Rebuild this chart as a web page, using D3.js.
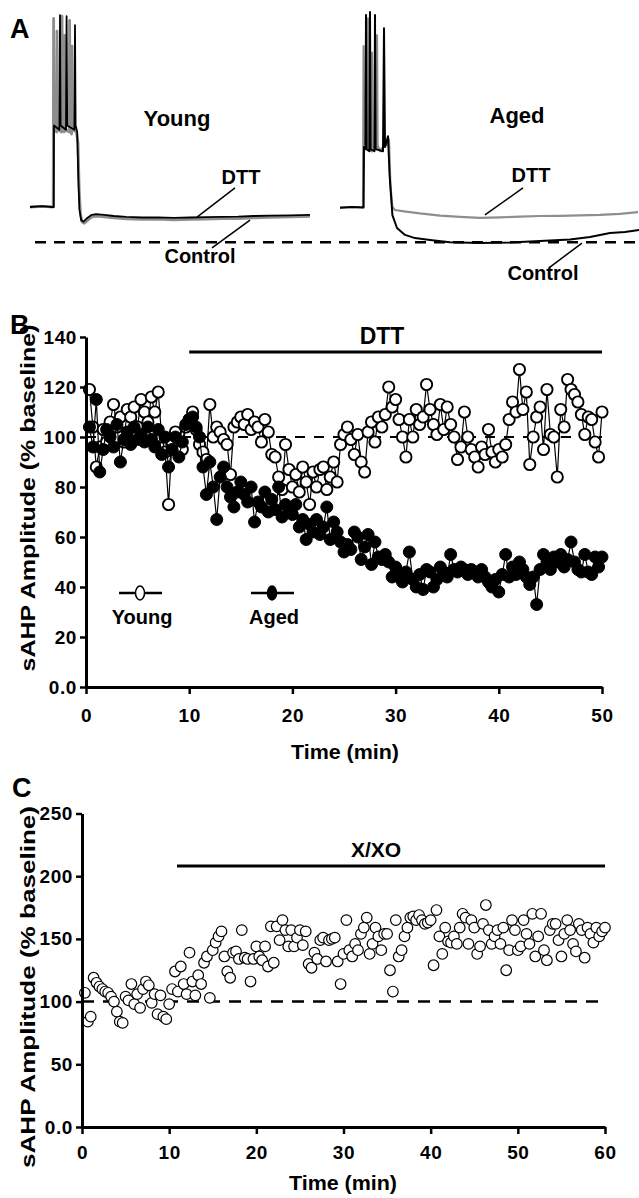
<!DOCTYPE html>
<html>
<head>
<meta charset="utf-8">
<script src="https://cdn.jsdelivr.net/npm/d3@7"></script>
<style>
  body { margin: 0; background: #fff; }
  svg { display: block; font-family: "Liberation Sans", Arial, sans-serif; font-weight: bold; }
</style>
</head>
<body>
<div id="chart"></div>
<script>
// ---- Panel A: voltage traces, [time (ms), membrane potential (mV)] ----
const youngDTT = [[0,-60],[60,-59.7],[116,-60],[118,28],[121,-24],[133,-25],[135,22],[138,-24],[158,-25],[160,29],[163,-24],
  [171,-25],[173,20],[176,-24],[196,-25],[198,27],[201,-24],[208,-26],[210,15],[213,-24],[232,-25],[240,-30],[246,-52],
  [252,-63],[260,-67],[272,-67.6],[290,-66],[310,-64.6],[335,-64.2],[370,-64.6],[420,-65],[480,-65.5],[560,-65.8],
  [640,-65.6],[720,-66],[800,-65.8],[880,-65.6],[960,-65.4],[1040,-65.4],[1120,-65],[1200,-64.8],[1300,-64.6],[1400,-64.4]];
const youngControl = [[0,-60],[60,-59.6],[110,-60],[119,-60],[120,-22],[147,-24],[150,29.5],[153,-22],[180,-24],
  [183,29],[186,-22],[222,-24],[225,24.8],[228,-22],[236,-25],[241,-45],[247,-61],[256,-66.2],[268,-66.8],[285,-65.2],
  [305,-63.8],[330,-63.3],[370,-63.7],[420,-64.2],[480,-64.6],[560,-64.9],[640,-64.8],[720,-65.1],[800,-64.9],
  [880,-64.7],[960,-64.6],[1040,-64.5],[1120,-64.2],[1200,-64],[1300,-63.9],[1400,-63.7]];
const agedDTT = [[0,-60.3],[60,-60],[115,-60.2],[118,15],[121,-30],[138,-32],[140,28],[143,-33],[158,-34],[160,12],
  [163,-32],[182,-33],[185,20],[188,-31],[200,-34],[215,-32],[235,-31],[245,-28.5],[252,-50],[262,-60],[275,-61.4],
  [320,-62],[400,-63],[500,-64],[600,-64.6],[700,-65.1],[800,-64.8],[900,-64.5],[1000,-64.2],[1100,-64.1],
  [1200,-63.9],[1300,-63.7],[1400,-63.2],[1490,-62.4]];
const agedControl = [[0,-60.3],[60,-60],[118,-60.2],[120,-32],[127,-33],[130,29.5],[133,-33],[147,-34],[150,30.9],
  [153,-33],[172,-34],[175,29.5],[178,-33],[215,-34],[220,23.4],[225,-32],[240,-27],[248,-45],[262,-63.8],
  [285,-69.8],[325,-73],[375,-74.5],[450,-75.4],[550,-76.4],[700,-76.8],[850,-76.6],[1000,-75.9],[1150,-75.2],
  [1250,-74],[1350,-72.1],[1425,-71.7],[1495,-70.7]];
const baselineMV = -76.4;

// ---- Panel B: sAHP amplitude (% baseline), one sample every 1/3 min ----
const sampleStepB = 1 / 3;
const youngB = [119,104,88, 96,103,98, 106,113,104, 108,98,111, 108,112,104, 115,110,106, 116,110,118, 100,94,73,
  98,102,96, 95,104,107, 110,103,97, 94,91,113, 100,104,102, 99,97,85, 104,106,108, 105,109,103, 106,104,98,
  107,102,93, 92,84,79, 97,87,80, 85,78,88, 82,73,86, 80,87,88, 79,84,90, 82,97,101, 104,99,93, 101,90,86,
  102,106,98, 108,104,109, 120,112,115, 107,100,92, 107,100,111, 105,108,121, 111,105,101, 113,103,112,
  105,100,91, 96,110,100, 95,92,88, 96,93,103, 94,90,95, 92,97,107, 114,110,127, 111,118,89, 100,108,112,
  95,119,101, 100,84,111, 104,123,119, 117,114,109, 101,108,107, 98,92,110];
const agedB = [104,96,115, 86,95,103, 100,96,105, 90,99,102, 97,104,99, 101,98,104, 99,96,103, 93,100,88,
  95,100,92, 98,105,107, 108,104,100, 88,77,90, 80,67,84, 88,80,76, 72,78,82, 77,74,80, 66,74,72, 78,70,75,
  71,80,68, 73,70,69, 73,64,67, 59,65,62, 67,61,64, 72,59,66, 62,58,54, 57,55,62, 60,51,56, 61,49,58,
  52,51,53, 50,44,48, 44,42,46, 54,43,40, 45,39,47, 46,40,43, 48,46,44, 53,47,46, 48,47,45, 47,46,44,
  47,44,42, 40,43,38, 45,53,44, 48,45,50, 47,44,41, 44,33,47, 53,50,47, 52,50,53, 48,51,58, 50,47,46,
  53,46,45, 52,48,52];
const drugB = { label: "DTT", start: 10, end: 50 };
const bXTicks = [0, 10, 20, 30, 40, 50];
const bYTicks = [0, 20, 40, 60, 80, 100, 120, 140];

// ---- Panel C: sAHP amplitude (% baseline), one sample every 1/3 min ----
const sampleStepC = 1 / 3;
const xxoC = [107,84,88, 119,115,112, 110,108,107, 104,100,92, 84,83,104, 101,114,98, 106,95,110, 116,113,99,
  106,90,105, 88,86,98, 110,124,108, 128,114,106, 139,116,105, 121,114,131, 136,103,141, 147,152,156,
  136,124,119, 139,140,134, 157,135,134, 116,134,144, 136,133,144, 128,160,131, 160,149,165, 157,144,157,
  144,151,157, 145,156,130, 127,139,134, 149,151,132, 149,150,151, 132,114,138, 165,141,136, 146,141,154,
  159,167,138, 146,159,152, 141,154,154, 125,108,165, 136,141,152, 159,167,168, 165,169,165, 162,163,165,
  129,173,152, 138,159,148, 147,152,146, 159,170,167, 146,165,159, 138,144,162, 177,157,146, 152,157,146,
  159,125,141, 165,157,141, 144,165,154, 146,170,136, 152,170,141, 133,157,162, 162,149,136, 154,165,157,
  146,140,162, 157,135,159, 154,147,159, 152,156,159];
const drugC = { label: "X/XO", start: 10.9, end: 60 };
const cXTicks = [0, 10, 20, 30, 40, 50, 60];
const cYTicks = [0, 50, 100, 150, 200, 250];

const yTickFormat = d => d === 0 ? "0.0" : String(d);

// ---- svg ----
const svg = d3.select("#chart").append("svg")
  .attr("width", 639)
  .attr("height", 1198);

svg.append("rect").attr("width", 639).attr("height", 1198).attr("fill", "#fff");

function label(x, y, txt, size, anchor) {
  return svg.append("text")
    .attr("x", x).attr("y", y)
    .attr("text-anchor", anchor || "middle")
    .attr("font-size", size)
    .attr("font-weight", "bold")
    .attr("fill", "#000")
    .text(txt);
}

// ================= Panel A =================
const xYoung = d3.scaleLinear().domain([0, 1400]).range([30, 310]);
const xAged = d3.scaleLinear().domain([0, 1500]).range([340, 640]);
const yA = d3.scaleLinear().domain([-80, 30]).range([249.9, 14]);

function trace(data, xs, color, w) {
  svg.append("path")
    .datum(data)
    .attr("d", d3.line().x(d => xs(d[0])).y(d => yA(d[1])))
    .attr("fill", "none")
    .attr("stroke", color)
    .attr("stroke-width", w)
    .attr("stroke-linejoin", "round");
}

// dashed reference line across both traces
svg.append("line")
  .attr("x1", xYoung(25)).attr("x2", xAged(1500))
  .attr("y1", yA(baselineMV)).attr("y2", yA(baselineMV))
  .attr("stroke", "#000").attr("stroke-width", 2.5)
  .attr("stroke-dasharray", "11,8");

trace(youngDTT, xYoung, "#8e8e8e", 2.8);
trace(youngControl, xYoung, "#000", 1.8);
trace(agedDTT, xAged, "#8e8e8e", 2.2);
trace(agedControl, xAged, "#000", 2);

// pointer lines
function pointer(xs, a, b) {
  svg.append("line")
    .attr("x1", xs(a[0])).attr("y1", yA(a[1]))
    .attr("x2", xs(b[0])).attr("y2", yA(b[1]))
    .attr("stroke", "#000").attr("stroke-width", 1.5);
}
pointer(xYoung, [1025, -51.1], [835, -64.7]);
pointer(xYoung, [1100, -66.1], [910, -79.1]);
pointer(xAged, [915, -51.1], [725, -63.7]);
pointer(xAged, [1210, -76.8], [1050, -88]);

label(10, 38, "A", 27, "start");
label(177, 126, "Young", 22);
label(517, 123, "Aged", 22);
label(241, 184, "DTT", 20);
label(200, 263, "Control", 20);
label(531, 182, "DTT", 20);
label(543, 280, "Control", 20);

// ================= shared axis styling =================
function styleAxis(g) {
  g.attr("font-size", null).attr("font-family", null);
  g.select(".domain").attr("stroke", "#000").attr("stroke-width", 3);
  g.selectAll(".tick line").attr("stroke", "#000").attr("stroke-width", 2.5);
  g.selectAll(".tick text")
    .attr("fill", "#000")
    .attr("font-size", 19)
    .attr("letter-spacing", 0.6)
    .attr("font-weight", "bold");
}

function yTitle(x, y, len) {
  svg.append("text")
    .attr("transform", `translate(${x},${y}) rotate(-90)`)
    .attr("text-anchor", "middle")
    .attr("font-size", 21)
    .attr("font-weight", "bold")
    .attr("textLength", len)
    .attr("lengthAdjust", "spacingAndGlyphs")
    .text("sAHP Amplitude (% baseline)");
}

// ================= Panel B =================
const xB = d3.scaleLinear().domain([0, 50]).range([86, 602]);
const yB = d3.scaleLinear().domain([0, 140]).range([687, 337]);

const youngPts = youngB.map((v, i) => [(i + 1) * sampleStepB, v]);
const agedPts = agedB.map((v, i) => [(i + 1) * sampleStepB, v]);

// baseline dashed line at 100 %
svg.append("line")
  .attr("x1", xB(0)).attr("x2", xB(50))
  .attr("y1", yB(100)).attr("y2", yB(100))
  .attr("stroke", "#000").attr("stroke-width", 2)
  .attr("stroke-dasharray", "10,9");

const lineB = d3.line().x(d => xB(d[0])).y(d => yB(d[1]));

svg.append("path").datum(youngPts).attr("d", lineB)
  .attr("fill", "none").attr("stroke", "#000").attr("stroke-width", 1.2);
svg.append("g").selectAll("circle")
  .data(youngPts)
  .join("circle")
  .attr("cx", d => xB(d[0])).attr("cy", d => yB(d[1]))
  .attr("r", 5.6)
  .attr("fill", "#fff").attr("stroke", "#000").attr("stroke-width", 1.9);

svg.append("path").datum(agedPts).attr("d", lineB)
  .attr("fill", "none").attr("stroke", "#000").attr("stroke-width", 1.2);
svg.append("g").selectAll("circle")
  .data(agedPts)
  .join("circle")
  .attr("cx", d => xB(d[0])).attr("cy", d => yB(d[1]))
  .attr("r", 6)
  .attr("fill", "#000").attr("stroke", "#000").attr("stroke-width", 1);

// drug bar
svg.append("line")
  .attr("x1", xB(drugB.start)).attr("x2", xB(drugB.end))
  .attr("y1", 352).attr("y2", 352)
  .attr("stroke", "#000").attr("stroke-width", 3);
label(382, 344, drugB.label, 23);

// axes
const gxB = svg.append("g")
  .attr("transform", "translate(0,687)")
  .call(d3.axisBottom(xB).tickValues(bXTicks).tickSize(7).tickSizeOuter(0).tickPadding(15).tickFormat(d3.format("d")));
styleAxis(gxB);
const gyB = svg.append("g")
  .attr("transform", "translate(86,0)")
  .call(d3.axisLeft(yB).tickValues(bYTicks).tickSize(6).tickSizeOuter(0).tickPadding(3).tickFormat(yTickFormat));
styleAxis(gyB);

label(10, 334, "B", 27, "start");
label(345, 759, "Time (min)", 20).attr("textLength", 108).attr("lengthAdjust", "spacingAndGlyphs");
yTitle(35, 498, 347);

// legend
function legendItem(cx, filled, name) {
  svg.append("line").attr("x1", cx - 21).attr("x2", cx + 22).attr("y1", 593).attr("y2", 593)
    .attr("stroke", "#000").attr("stroke-width", 2.5);
  svg.append("ellipse").attr("cx", cx).attr("cy", 593).attr("rx", 4.5).attr("ry", 7)
    .attr("fill", filled ? "#000" : "#fff").attr("stroke", "#000").attr("stroke-width", 1.5);
  label(cx + 2, 624, name, 20);
}
legendItem(140, false, "Young");
legendItem(272, true, "Aged");

// ================= Panel C =================
const xC = d3.scaleLinear().domain([0, 60]).range([82, 605]);
const yC = d3.scaleLinear().domain([0, 250]).range([1127, 813.5]);

const cPts = xxoC.map((v, i) => [(i + 1) * sampleStepC, v]);

svg.append("line")
  .attr("x1", xC(0)).attr("x2", xC(59.8))
  .attr("y1", yC(100)).attr("y2", yC(100))
  .attr("stroke", "#000").attr("stroke-width", 2.5)
  .attr("stroke-dasharray", "12,9");

svg.append("g").selectAll("circle")
  .data(cPts)
  .join("circle")
  .attr("cx", d => xC(d[0])).attr("cy", d => yC(d[1]))
  .attr("r", 5.3)
  .attr("fill", "#fff").attr("stroke", "#000").attr("stroke-width", 1.2);

svg.append("line")
  .attr("x1", xC(drugC.start)).attr("x2", xC(drugC.end))
  .attr("y1", 866).attr("y2", 866)
  .attr("stroke", "#000").attr("stroke-width", 3);
label(376, 857, drugC.label, 21);

const gxC = svg.append("g")
  .attr("transform", "translate(0,1127)")
  .call(d3.axisBottom(xC).tickValues(cXTicks).tickSize(7).tickSizeOuter(0).tickPadding(12).tickFormat(d3.format("d")));
styleAxis(gxC);
const gyC = svg.append("g")
  .attr("transform", "translate(82,0)")
  .call(d3.axisLeft(yC).tickValues(cYTicks).tickSize(6).tickSizeOuter(0).tickPadding(3).tickFormat(yTickFormat));
styleAxis(gyC);

label(12, 797, "C", 27, "start");
label(343, 1190, "Time (min)", 20).attr("textLength", 108).attr("lengthAdjust", "spacingAndGlyphs");
yTitle(35, 987, 362);
</script>
</body>
</html>
